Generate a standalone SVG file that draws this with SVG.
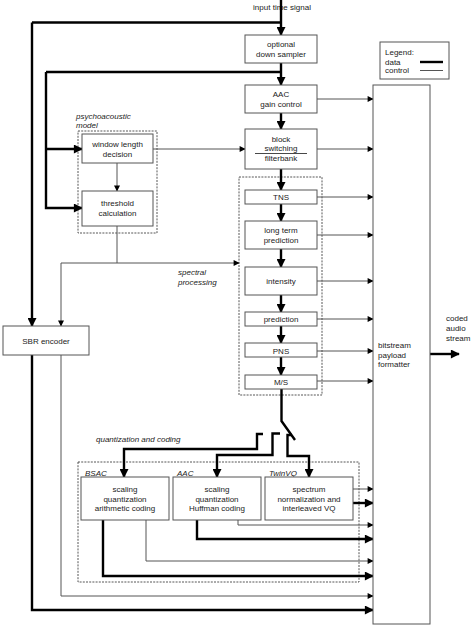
<svg xmlns="http://www.w3.org/2000/svg" width="474" height="629" viewBox="0 0 474 629">
<style>
text{font-family:"Liberation Sans",Arial,sans-serif;font-size:8px;fill:#222}
.c{text-anchor:middle}
.i{font-style:italic}
.box{fill:#fff;stroke:#555;stroke-width:1}
.dash{fill:none;stroke:#444;stroke-width:0.9;stroke-dasharray:2,1.2}
.k{fill:none;stroke:#000;stroke-width:2.4}
.t{fill:none;stroke:#555;stroke-width:1}
.ka{marker-end:url(#ak)}
.ta{marker-end:url(#at)}
</style>
<defs>
<marker id="ak" viewBox="0 0 10 10" refX="9" refY="5" markerWidth="10" markerHeight="9" markerUnits="userSpaceOnUse" orient="auto"><path d="M0,0 L10,5 L0,10 z" fill="#000"/></marker>
<marker id="at" viewBox="0 0 10 10" refX="9" refY="5" markerWidth="9" markerHeight="6" markerUnits="userSpaceOnUse" orient="auto"><path d="M0,0 L10,5 L0,10 z" fill="#000"/></marker>
</defs>
<rect width="474" height="629" fill="#fff"/>

<g id="labels">
<text class="c" x="282" y="9.5">input time signal</text>
<text class="i" x="76" y="118.5">psychoacoustic</text>
<text class="i" x="76" y="128">model</text>
<text class="i" x="178" y="275">spectral</text>
<text class="i" x="178" y="285">processing</text>
<text class="i" x="96" y="442">quantization and coding</text>
<text x="446" y="321">coded</text>
<text x="446" y="331">audio</text>
<text x="446" y="341">stream</text>
</g>

<g id="psycho-group"><rect class="dash" x="78" y="131" width="79" height="102"/></g>
<g id="spectral-group"><rect class="dash" x="239" y="177" width="83" height="218"/></g>
<g id="quant-group">
<rect class="dash" x="78" y="462" width="281" height="120"/>
<text class="i" x="85" y="476">BSAC</text>
<text class="i" x="177" y="476">AAC</text>
<text class="i" x="269" y="476">TwinVQ</text>
</g>

<g id="connectors">
<path class="k ka" d="M281,0 V35"/>
<path class="k" d="M32,22.5 H281"/>
<path class="k ka" d="M281,63 V85"/>
<path class="k" d="M46,72 H281"/>
<path class="k ka" d="M281,113 V129"/>
<path class="k ka" d="M281,169 V190"/>
<path class="k ka" d="M281,204 V221"/>
<path class="k ka" d="M281,249 V267"/>
<path class="k ka" d="M281,295 V312"/>
<path class="k ka" d="M281,326 V343"/>
<path class="k ka" d="M281,357 V375"/>
<path class="k" d="M281.5,389 V421 L295,440"/>
<path class="k ka" d="M263,434 H257 V449 H124 V477"/>
<path class="k ka" d="M280,433.5 H272.5 V455 H217 V477"/>
<path class="k ka" d="M292,435 H287.5 V456 H309 V477"/>
<path class="k ka" d="M46,72 V208 H82"/>
<path class="k ka" d="M46,149 H82"/>
<path class="k ka" d="M32,22.5 V326"/>
<path class="k ka" d="M32,355 V610 H373"/>
<path class="k ka" d="M353,503 H373"/>
<path class="k ka" d="M197,520 V539 H373"/>
<path class="k ka" d="M103,520 V576 H373"/>
<path class="k ka" d="M430,354 H459"/>

<path class="t ta" d="M317,99 H373"/>
<path class="t ta" d="M317,149 H373"/>
<path class="t ta" d="M153,149 H245"/>
<path class="t ta" d="M117,163 V191"/>
<path class="t" d="M117,226 V263"/>
<path class="t ta" d="M61,263 H239"/>
<path class="t ta" d="M61,263 V326"/>
<path class="t ta" d="M317,197 H373"/>
<path class="t ta" d="M317,235 H373"/>
<path class="t ta" d="M317,281 H373"/>
<path class="t ta" d="M317,319 H373"/>
<path class="t ta" d="M317,351 H373"/>
<path class="t ta" d="M317,381 H373"/>
<path class="t ta" d="M353,489 H373"/>
<path class="t ta" d="M238,520 V525 H373"/>
<path class="t ta" d="M146,520 V561 H373"/>
<path class="t ta" d="M61,355 V596 H373"/>
</g>

<g id="downsampler"><rect class="box" x="245" y="35" width="72" height="28"/>
<text class="c" x="281" y="47">optional</text><text class="c" x="281" y="56.5">down sampler</text></g>
<g id="gaincontrol"><rect class="box" x="245" y="85" width="72" height="28"/>
<text class="c" x="281" y="97">AAC</text><text class="c" x="281" y="106.5">gain control</text></g>
<g id="filterbank"><rect class="box" x="245" y="129" width="72" height="40"/>
<text class="c" x="281" y="141.5">block</text><text class="c" x="281" y="151">switching</text>
<line x1="255" y1="153.5" x2="307" y2="153.5" stroke="#333" stroke-width="0.9"/>
<text class="c" x="281" y="161">filterbank</text></g>
<g id="windowlength"><rect class="box" x="82" y="134" width="71" height="29"/>
<text class="c" x="117.5" y="147">window length</text><text class="c" x="117.5" y="156.5">decision</text></g>
<g id="threshold"><rect class="box" x="82" y="191" width="71" height="35"/>
<text class="c" x="117.5" y="206">threshold</text><text class="c" x="117.5" y="216">calculation</text></g>
<g id="tns"><rect class="box" x="245" y="190" width="72" height="14"/>
<text class="c" x="281" y="199.5">TNS</text></g>
<g id="ltp"><rect class="box" x="245" y="221" width="72" height="28"/>
<text class="c" x="281" y="233">long term</text><text class="c" x="281" y="243">prediction</text></g>
<g id="intensity"><rect class="box" x="245" y="267" width="72" height="28"/>
<text class="c" x="281" y="283.5">intensity</text></g>
<g id="prediction"><rect class="box" x="245" y="312" width="72" height="14"/>
<text class="c" x="281" y="322">prediction</text></g>
<g id="pns"><rect class="box" x="245" y="343" width="72" height="14"/>
<text class="c" x="281" y="353.5">PNS</text></g>
<g id="ms"><rect class="box" x="245" y="375" width="72" height="14"/>
<text class="c" x="281" y="384.5">M/S</text></g>
<g id="sbr"><rect class="box" x="3" y="326" width="86" height="29"/>
<text class="c" x="46" y="343.5">SBR encoder</text></g>
<g id="bsac"><rect class="box" x="81" y="477" width="88" height="43"/>
<text class="c" x="125" y="492">scaling</text><text class="c" x="125" y="501.5">quantization</text><text class="c" x="125" y="511">arithmetic coding</text></g>
<g id="aac"><rect class="box" x="173" y="477" width="88" height="43"/>
<text class="c" x="217" y="492">scaling</text><text class="c" x="217" y="501.5">quantization</text><text class="c" x="217" y="511">Huffman coding</text></g>
<g id="twinvq"><rect class="box" x="265" y="477" width="88" height="43"/>
<text class="c" x="309" y="492">spectrum</text><text class="c" x="309" y="501.5">normalization and</text><text class="c" x="309" y="511">interleaved VQ</text></g>
<g id="bitstream"><rect class="box" x="373" y="85" width="57" height="539"/>
<text x="378" y="348">bitstream</text><text x="378" y="357.5">payload</text><text x="378" y="367">formatter</text></g>
<g id="legend"><rect class="box" x="380" y="42" width="69" height="37"/>
<text x="385" y="55">Legend:</text><text x="385" y="64.5">data</text><text x="385" y="73">control</text>
<line x1="420" y1="62" x2="443" y2="62" stroke="#000" stroke-width="2.4"/>
<line x1="420" y1="70.5" x2="443" y2="70.5" stroke="#555" stroke-width="1"/></g>
</svg>
